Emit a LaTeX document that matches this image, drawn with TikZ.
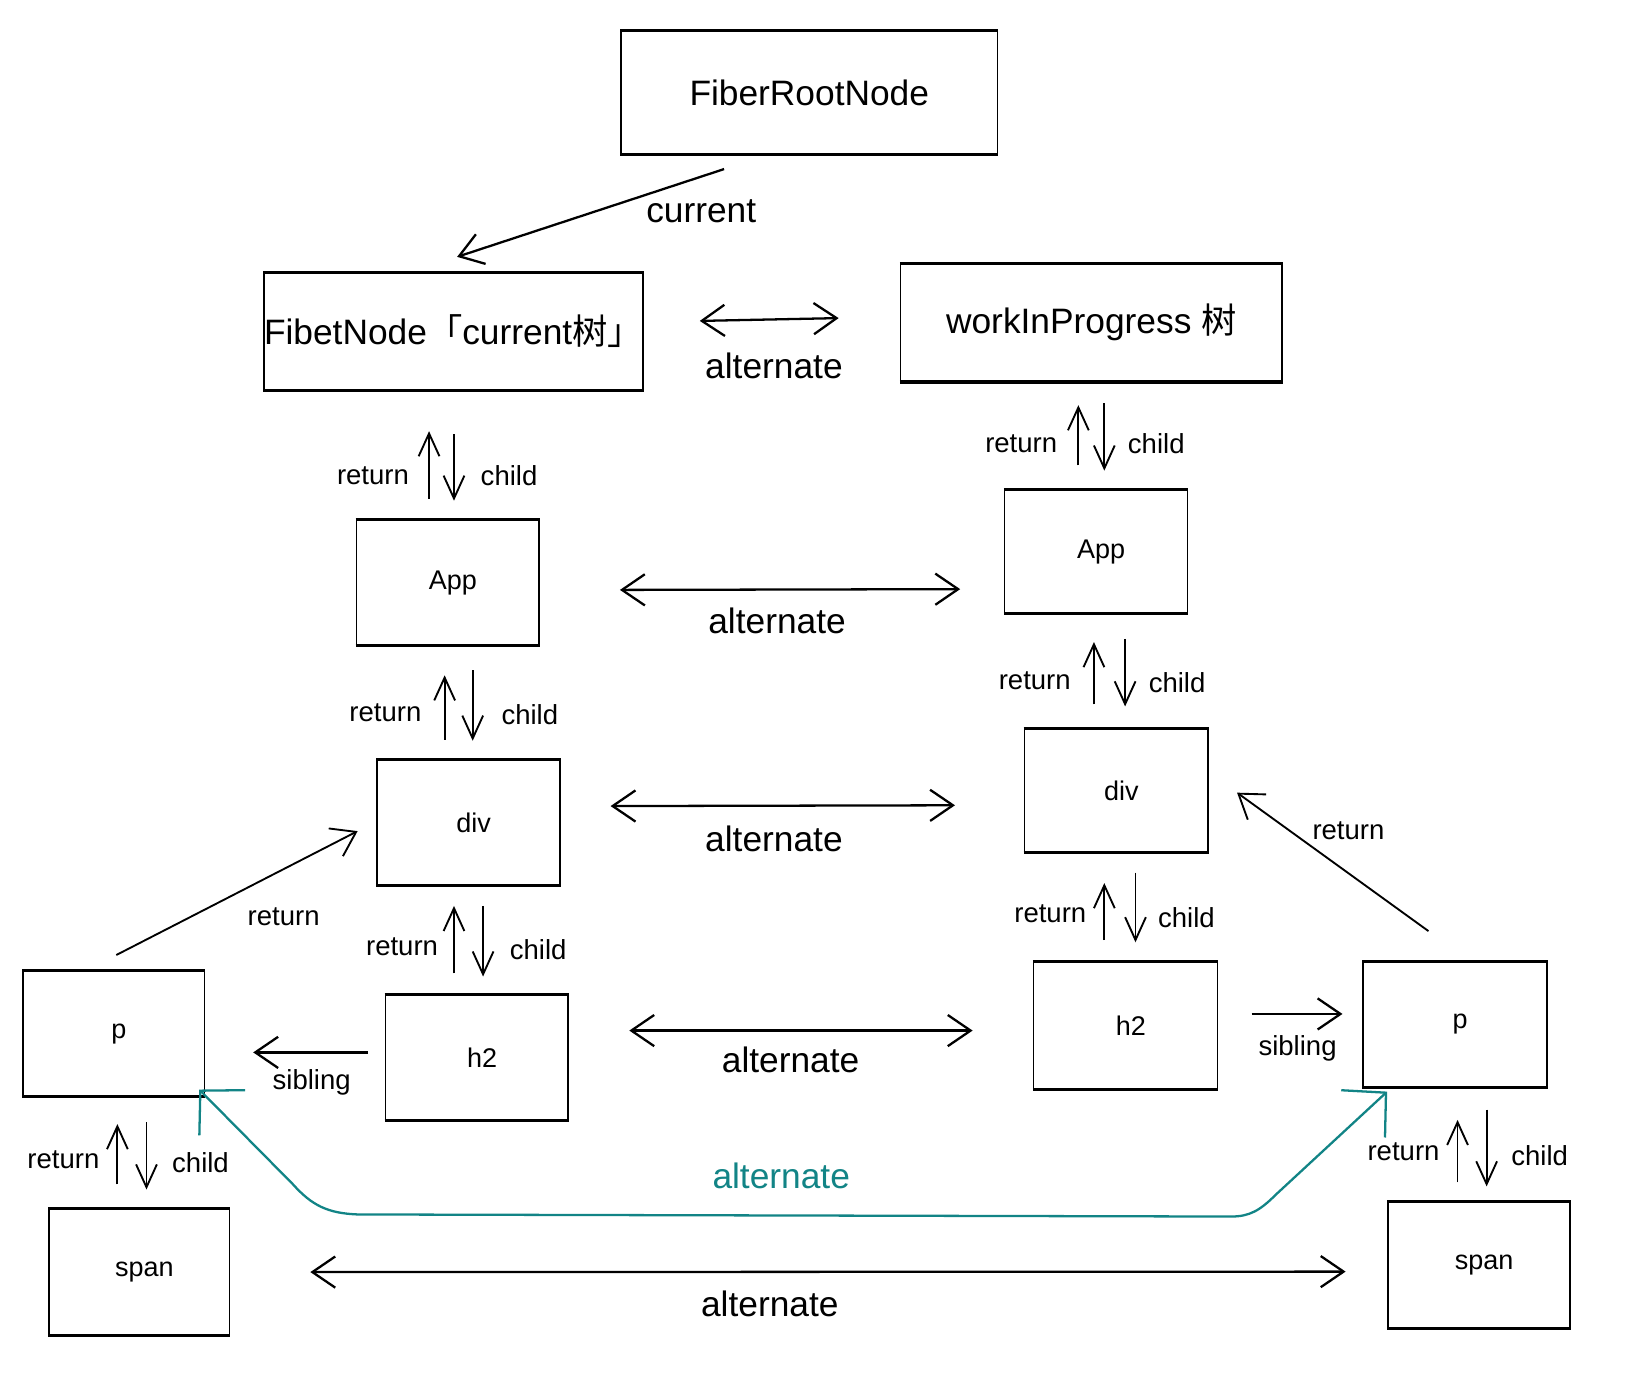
\documentclass[tikz,border=0pt]{standalone}
\usepackage{fontspec}
\setmainfont{Liberation Sans}
\newfontfamily\cjk{Noto Sans CJK SC}
\usetikzlibrary{arrows.meta}
\definecolor{tealc}{RGB}{18,132,134}
\begin{document}
\begin{tikzpicture}[x=1pt,y=-1pt,
  box/.style={draw, line width=1.5pt, inner sep=0pt, font=\fontsize{26}{30}\selectfont},
  bigbox/.style={box, font=\fontsize{34}{40}\selectfont},
  arr/.style={line width=2.2pt, -{Straight Barb[length=22pt,width=30pt]}},
  darr/.style={line width=2.2pt, {Straight Barb[length=22pt,width=30pt]}-{Straight Barb[length=22pt,width=30pt]}},
  sarr/.style={line width=1.8pt, -{Straight Barb[length=22pt,width=20pt]}},
  tarr/.style={draw=tealc, line width=2.2pt, {Straight Barb[length=30pt,width=62pt]}-{Straight Barb[length=30pt,width=62pt]}},
  big/.style={font=\fontsize{34}{40}\selectfont, inner sep=0pt},
  small/.style={font=\fontsize{26.5}{30}\selectfont, inner sep=0pt},
]
\useasboundingbox (0,0) rectangle (1569,1333);

% boxes
\node[bigbox, minimum width=362pt, minimum height=118pt] (root) at (779,89) {FiberRootNode};
\node[bigbox, minimum width=363pt, minimum height=112pt] (cur) at (436.5,319) {FibetNode{\cjk 「}current{\cjk 树」}};
\node[bigbox, minimum width=367pt, minimum height=113pt] (wip) at (1050.5,310.5) {workInProgress {\cjk 树}};
\node[box, minimum width=176pt, minimum height=120pt] (appL) at (431,561) {\hspace*{10pt}App};
\node[box, minimum width=176pt, minimum height=118pt] (appR) at (1055,531) {\hspace*{10pt}App};
\node[box, minimum width=176pt, minimum height=120pt] (divL) at (451,792) {\hspace*{10pt}div};
\node[box, minimum width=177pt, minimum height=118pt] (divR) at (1074.5,761) {\hspace*{10pt}div};
\node[box, minimum width=176pt, minimum height=120pt] (h2L) at (459,1018) {\hspace*{10pt}h2};
\node[box, minimum width=177pt, minimum height=122pt] (h2R) at (1083.5,987) {\hspace*{10pt}h2};
\node[box, minimum width=175pt, minimum height=120pt] (pL) at (109.5,995) {\hspace*{10pt}p};
\node[box, minimum width=177pt, minimum height=120pt] (pR) at (1400.5,986) {\hspace*{10pt}p};
\node[box, minimum width=174pt, minimum height=121pt] (spanL) at (134,1224.5) {\hspace*{10pt}span};
\node[box, minimum width=175pt, minimum height=121pt] (spanR) at (1423.5,1217.5) {\hspace*{10pt}span};

\foreach \n in {root,cur,wip,appL,appR,divL,divR,h2L,h2R,pL,pR,spanL,spanR}
  \draw[line width=3pt] (\n.north west) -- (\n.north east) (\n.south west) -- (\n.south east);

% current
\draw[arr] ([xshift=-82pt,yshift=-14pt]root.south) -- ([xshift=3.5pt,yshift=15pt]cur.north);
\node[big] (lcur) at (675,203) {current};

% alternates
\draw[darr, shorten <=54pt, shorten >=59pt] ([yshift=9pt]cur.east) -- ([yshift=5.5pt]wip.west);
\node[big] (lalt1) at (745,352) {alternate};
\draw[darr, shorten <=77pt, shorten >=42pt] ([yshift=-7pt]appL.east) -- ([yshift=-36pt]appR.west);
\node[big] (lalt2) at (748,598) {alternate};
\draw[darr, shorten <=48pt, shorten >=66pt] ([yshift=16pt]divL.east) -- ([yshift=-14pt]divR.west);
\node[big] (lalt3) at (745,807) {alternate};
\draw[darr, shorten <=58pt, shorten >=58pt] ([yshift=26pt]h2L.east) -- ([yshift=-5pt]h2R.west);
\node[big] (lalt4) at (761,1020) {alternate};
\draw[darr, shorten <=77pt, shorten >=40pt] (spanL.east) -- ([yshift=-6.5pt]spanR.west);
\node[big] (lalt5) at (741,1255) {alternate};

% siblings
\draw[arr, shorten <=16pt, shorten >=46pt] ([yshift=5pt]h2L.west) -- ([yshift=-18pt]pL.east);
\node[small] (lsibL) at (300,1042) {sibling};
\draw[arr, shorten <=32pt, shorten >=19pt] ([yshift=11pt]h2R.east) -- ([yshift=10pt]pR.west);
\node[small] (lsibR) at (1249,1009) {sibling};

% long returns
\draw[arr, line width=1.8pt] ([xshift=2.5pt,yshift=15pt]pL.north) -- ([xshift=-18pt,yshift=-8pt]divL.west);
\node[small] (lretL) at (273,882) {return};
\draw[arr, line width=1.8pt] ([xshift=-25.5pt,yshift=29pt]pR.north) -- ([xshift=27pt,yshift=-2pt]divR.east);
\node[small] (lretR) at (1298,800) {return};

% teal alternate
\draw[tarr] ([xshift=-6pt,yshift=7pt]pL.south east) -- (282,1140)
  .. controls (300,1160) and (315,1168) .. (345,1169) -- (1185,1171)
  .. controls (1203,1171) and (1213,1165) .. (1228,1150) -- ([xshift=24pt,yshift=-4pt]pR.south west);
\node[big, text=tealc] (lalt6) at (752,1132) {alternate};

% return / child pairs
\foreach \nm/\xu/\yub/\yut/\xd/\ydt/\ydb/\rx/\ry/\cx/\cy in {
  a/413/480/415/437/418/482/359/458/490/458,
  b/1038/448/390/1063/388/453/983/427/1113/427,
  c/428/712/650/455/645/713/371/686/510/688,
  d/1053/678/618/1083/615/680/996/655/1133/657,
  e/437/937/872/465/872/940/387/911/518/914,
  f/1063/905/850/1093/840/907/1011/880/1142/883,
  g/113/1140/1082/141/1080/1145/61/1116/193/1119,
  h/1403/1138/1078/1431/1068/1142/1351/1109/1482/1112}{
  \coordinate (ub\nm) at (\xu,\yub);
  \coordinate (ut\nm) at (\xu,\yut);
  \coordinate (dt\nm) at (\xd,\ydt);
  \coordinate (db\nm) at (\xd,\ydb);
  \draw[sarr] (ub\nm) -- (ut\nm);
  \draw[sarr] (dt\nm) -- (db\nm);
  \node[small] (r\nm) at (\rx,\ry) {return};
  \node[small] (c\nm) at (\cx,\cy) {child};
}
\end{tikzpicture}
\end{document}
